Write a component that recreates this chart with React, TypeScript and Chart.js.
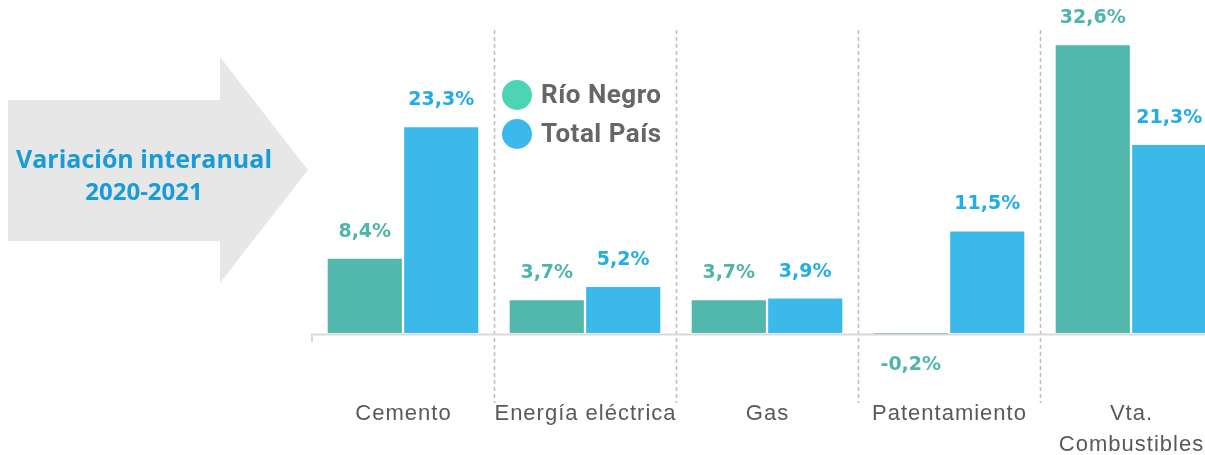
import React, { useEffect, useRef } from "react";
import { Chart, registerables } from "chart.js";

Chart.register(...registerables);

// ---- data ----
const categories: string[][] = [
  ["Cemento"],
  ["Energía eléctrica"],
  ["Gas"],
  ["Patentamiento"],
  ["Vta.", "Combustibles"],
];
const seriesNames = ["Río Negro", "Total País"];
const rioNegro = [8.4, 3.7, 3.7, -0.2, 32.6];
const totalPais = [23.3, 5.2, 3.9, 11.5, 21.3];
const titleLines = ["Variación interanual", "2020-2021"];

// ---- styles ----
const BAR_COLORS = ["#52b8ae", "#3bbaea"];
const LABEL_COLORS = ["#4fb5aa", "#22ade8"];
const LEGEND_COLORS = ["#4dd4b4", "#3bb9ea"];

const fmt = (v: number) => v.toFixed(1).replace(".", ",") + "%";

const overlay = {
  id: "overlay",
  beforeDraw(chart: any) {
    const ctx = chart.ctx as CanvasRenderingContext2D;
    ctx.save();
    // arrow
    ctx.fillStyle = "#e7e7e7";
    ctx.beginPath();
    ctx.moveTo(8, 100);
    ctx.lineTo(220, 100);
    ctx.lineTo(220, 57);
    ctx.lineTo(308, 170);
    ctx.lineTo(220, 283);
    ctx.lineTo(220, 241);
    ctx.lineTo(8, 241);
    ctx.closePath();
    ctx.fill();
    ctx.fillStyle = "#1a9bd7";
    ctx.textAlign = "center";
    ctx.textBaseline = "middle";
    ctx.font = "bold 25px 'Open Sans'";
    ctx.fillText(titleLines[0], 144, 161);
    ctx.font = "bold 24px 'Open Sans'";
    ctx.fillText(titleLines[1], 144, 193);
    ctx.restore();
  },
  beforeDatasetsDraw(chart: any) {
    const ctx = chart.ctx as CanvasRenderingContext2D;
    const x = chart.scales.x;
    ctx.save();
    ctx.strokeStyle = "#bdbdbd";
    ctx.lineWidth = 1.5;
    ctx.setLineDash([4, 3]);
    for (let i = 0; i < categories.length - 1; i++) {
      const px = Math.round((x.getPixelForValue(i) + x.getPixelForValue(i + 1)) / 2) + 0.5;
      ctx.beginPath();
      ctx.moveTo(px, 30);
      ctx.lineTo(px, 403);
      ctx.stroke();
    }
    ctx.restore();
  },
  afterDatasetsDraw(chart: any) {
    const ctx = chart.ctx as CanvasRenderingContext2D;
    const x = chart.scales.x;
    const y = chart.scales.y;
    const area = chart.chartArea;
    const base = y.getPixelForValue(0);
    ctx.save();
    // axis line
    ctx.strokeStyle = "#d9d9d9";
    ctx.lineWidth = 2;
    ctx.beginPath();
    ctx.moveTo(area.left - 1, base + 1.5);
    ctx.lineTo(area.right, base + 1.5);
    ctx.stroke();
    ctx.beginPath();
    ctx.moveTo(area.left, base + 1.5);
    ctx.lineTo(area.left, base + 9);
    ctx.stroke();

    // data labels
    ctx.textAlign = "center";
    ctx.textBaseline = "middle";
    ctx.font = "bold 19px 'DejaVu Sans'";
    chart.data.datasets.forEach((ds: any, di: number) => {
      const meta = chart.getDatasetMeta(di);
      meta.data.forEach((el: any, i: number) => {
        const v = ds.data[i];
        ctx.fillStyle = LABEL_COLORS[di];
        const ty = v >= 0 ? el.y - 27 : base + 32;
        ctx.fillText(fmt(v), el.x, ty);
      });
    });

    // category labels
    ctx.fillStyle = "#595959";
    ctx.font = "22px 'Liberation Sans'";
    (ctx as any).letterSpacing = "1px";
    categories.forEach((lines, i) => {
      const cx = x.getPixelForValue(i);
      lines.forEach((ln, li) => {
        ctx.fillText(ln, cx + 0.5, 414 + li * 31);
      });
    });

    // legend
    ctx.textAlign = "left";
    ctx.font = "bold 26px Roboto";
    (ctx as any).letterSpacing = "0.5px";
    seriesNames.forEach((name, i) => {
      const cy = 95 + i * 39;
      ctx.fillStyle = LEGEND_COLORS[i];
      ctx.beginPath();
      ctx.arc(517, cy, 15, 0, Math.PI * 2);
      ctx.fill();
      ctx.fillStyle = "#666666";
      ctx.fillText(name, 541, cy + 1);
    });
    (ctx as any).letterSpacing = "0px";
    ctx.restore();
  },
};

export default function App() {
  const ref = useRef<HTMLCanvasElement | null>(null);
  useEffect(() => {
    if (!ref.current) return;
    const chart = new Chart(ref.current, {
      type: "bar",
      data: {
        labels: categories.map((c) => c.join(" ")),
        datasets: [
          {
            label: seriesNames[0],
            data: rioNegro,
            backgroundColor: BAR_COLORS[0],
            categoryPercentage: 0.84,
            barPercentage: 0.97,
          },
          {
            label: seriesNames[1],
            data: totalPais,
            backgroundColor: BAR_COLORS[1],
            categoryPercentage: 0.84,
            barPercentage: 0.97,
          },
        ],
      },
      options: {
        responsive: false,
        animation: false,
        devicePixelRatio: 1,
        layout: { padding: { left: 312, right: 0, top: 0, bottom: 53 } },
        plugins: { legend: { display: false }, tooltip: { enabled: false } },
        scales: {
          x: { display: false },
          y: { display: false, min: -7.81, max: 37.71 },
        },
      },
      plugins: [overlay],
    });
    return () => chart.destroy();
  }, []);
  return (
    <div
      style={{
        position: "fixed",
        left: 0,
        top: 0,
        width: 1205,
        height: 455,
        overflow: "hidden",
        background: "#fff",
      }}
    >
      <canvas ref={ref} width={1222} height={455} style={{ display: "block" }} />
    </div>
  );
}
